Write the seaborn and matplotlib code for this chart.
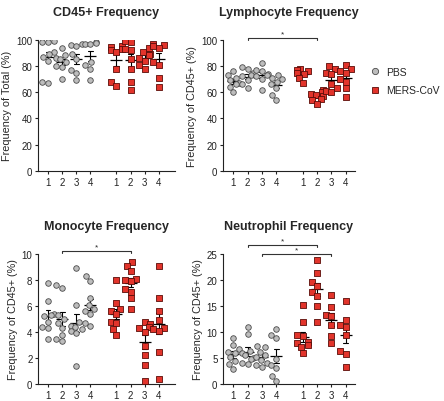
import pandas as pd
import seaborn as sns
import matplotlib.pyplot as plt
from matplotlib.lines import Line2D

DAYS = [1, 2, 3, 4]
GROUPS = ["PBS", "MERS-CoV"]

# values, one list per day
cd45_pbs = [[99, 98.5, 98, 91, 89, 87, 84, 68, 67],
            [94, 88, 86, 85, 83, 80, 79, 70],
            [96.5, 96, 95, 89, 85, 77, 75, 69],
            [98, 97.5, 97, 96.5, 83, 81, 78, 69]]
cd45_mers = [[95, 94.5, 93, 92, 91, 78, 68, 65],
             [99, 98, 93, 92, 85, 78, 68, 62],
             [94, 91, 89, 88, 86, 84, 81, 78],
             [97, 96, 95, 94, 83, 81, 71, 64]]

lymph_pbs = [[76, 73, 71, 69, 67, 66, 64, 60],
             [79, 78, 75, 73, 72, 69, 66, 63],
             [82, 77, 76, 74, 73, 72, 70, 62],
             [73, 71, 70, 68, 66, 63, 58, 54]]
lymph_mers = [[78, 77, 76, 75, 74, 71, 67],
              [62, 60, 59, 58, 57, 55, 54, 51],
              [80, 78, 75, 74, 66, 63, 61, 60],
              [81, 78, 76, 75, 70, 68, 63, 56]]

mono_pbs = [[7.8, 6.4, 5.4, 5.3, 5.2, 4.8, 4.4, 4.3, 3.5],
            [7.6, 7.4, 5.3, 5.0, 4.7, 4.3, 3.8, 3.5, 3.3],
            [8.9, 6.1, 4.8, 4.5, 4.4, 4.2, 4.1, 3.9, 1.4],
            [8.3, 7.9, 6.6, 6.1, 5.8, 5.6, 5.4, 4.7, 4.5]]
mono_mers = [[8.0, 6.2, 5.8, 5.6, 5.4, 4.8, 4.7, 4.2, 3.8],
             [9.4, 9.1, 8.7, 8.1, 8.0, 7.9, 7.3, 7.1, 6.6, 5.8],
             [4.8, 4.6, 4.4, 4.3, 4.0, 2.9, 2.2, 1.5, 0.25],
             [9.1, 6.6, 5.6, 4.9, 4.3, 4.2, 4.1, 2.5, 0.4]]

neut_pbs = [[8.9, 7.5, 6.7, 6.2, 5.9, 5.2, 4.4, 3.8, 2.9],
            [11.0, 9.7, 6.3, 5.9, 5.5, 5.0, 4.9, 4.1, 3.8],
            [7.3, 7.1, 6.2, 5.5, 5.2, 4.6, 4.1, 3.6, 3.3],
            [10.6, 9.4, 8.9, 4.9, 3.6, 3.0, 1.6, 0.6]]
neut_mers = [[15.1, 12.0, 9.5, 9.2, 8.0, 7.8, 7.5, 7.1, 5.9],
             [23.8, 21.4, 19.6, 18.8, 17.7, 17.0, 15.0, 12.0],
             [17.2, 14.8, 13.3, 13.1, 11.3, 9.2, 7.8],
             [16.0, 12.4, 11.4, 11.0, 9.4, 6.3, 5.7, 3.3]]

titles = ["CD45+ Frequency", "Lymphocyte Frequency",
          "Monocyte Frequency", "Neutrophil Frequency"]
ylabels = ["Frequency of Total (%)", "Frequency of CD45+ (%)",
           "Frequency of CD45+ (%)", "Frequency of CD45+ (%)"]
yticks = [range(0, 101, 20), range(0, 101, 20), range(0, 11, 2), range(0, 26, 5)]
# (day, bar height) for PBS vs MERS-CoV comparisons marked "*"
sig_bars = [[], [(2, 101)], [(2, 10.2)], [(2, 26.7), (3, 24.9)]]

MERS_OFFSET = 4.85
FILL = {"PBS": "#bdbdbd", "MERS-CoV": "#e2342b"}
EDGE = {"PBS": "#4a4a4a", "MERS-CoV": "#5a0c08"}
MARKER = {"PBS": "o", "MERS-CoV": "s"}


def to_long(pbs, mers):
    rows = []
    for grp, series in zip(GROUPS, [pbs, mers]):
        for day, vals in zip(DAYS, series):
            for v in vals:
                rows.append({"group": grp, "day": day, "value": v})
    df = pd.DataFrame(rows)
    df["pos"] = df["day"] - 1 + (df["group"] == "MERS-CoV") * MERS_OFFSET
    return df


panels = [to_long(cd45_pbs, cd45_mers), to_long(lymph_pbs, lymph_mers),
          to_long(mono_pbs, mono_mers), to_long(neut_pbs, neut_mers)]

sns.set_theme(style="ticks")
plt.rcParams["font.family"] = ["Liberation Sans", "DejaVu Sans"]

fig = plt.figure(figsize=(4.44, 4.02), dpi=100)
boxes = [[0.0856, 0.5721, 0.3086, 0.3267], [0.5023, 0.5721, 0.2973, 0.3267],
         [0.0856, 0.0420, 0.3086, 0.3240], [0.5023, 0.0420, 0.2973, 0.3240]]
xlims = [(-0.71, 9.0), (-0.72, 8.5), (-0.71, 9.0), (-0.72, 8.5)]

for i, df in enumerate(panels):
    ax = fig.add_axes(boxes[i])
    for grp in GROUPS:
        sub = df[df["group"] == grp]
        sns.swarmplot(data=sub, x="pos", y="value", native_scale=True, ax=ax,
                      marker=MARKER[grp], color=FILL[grp], edgecolor=EDGE[grp],
                      linewidth=0.6, size=4.0, warn_thresh=1)
        sns.pointplot(data=sub, x="pos", y="value", native_scale=True, ax=ax,
                      errorbar="se", capsize=0.35, color="black",
                      linestyle="none", marker="_", markersize=9,
                      markeredgewidth=0.9, err_kws={"linewidth": 0.8})

    ticks = sorted(df["pos"].unique())
    ax.set_xticks(ticks)
    ax.set_xticklabels([str(d) for d in DAYS] * 2)
    ax.set_xlim(*xlims[i])
    ax.set_yticks(list(yticks[i]))
    ax.set_ylim(yticks[i][0], yticks[i][-1])
    ax.set_xlabel("")
    ax.set_ylabel(ylabels[i], fontsize=7.8, labelpad=3)
    ax.set_title(titles[i], fontsize=9, fontweight="bold", pad=18)
    ax.tick_params(labelsize=7, length=2.5, width=0.8, pad=1.5, colors="#222222")
    for s in ["left", "bottom"]:
        ax.spines[s].set_linewidth(0.8)
        ax.spines[s].set_color("#222222")
    sns.despine(ax=ax)

    ymax = yticks[i][-1]
    for day, h in sig_bars[i]:
        x1 = day - 1
        x2 = day - 1 + MERS_OFFSET
        d = ymax * 0.012
        ax.plot([x1, x1, x2, x2], [h - d, h, h, h - d], color="#333333",
                lw=0.8, clip_on=False)
        ax.text((x1 + x2) / 2, h + ymax * 0.005, "*", ha="center", va="bottom",
                fontsize=6)

    if i == 1:
        handles = [Line2D([], [], marker=MARKER[g], linestyle="none",
                          markerfacecolor=FILL[g], markeredgecolor=EDGE[g],
                          markeredgewidth=0.6, markersize=4.5) for g in GROUPS]
        ax.legend(handles, GROUPS, loc="center left", bbox_to_anchor=(1.07, 0.685),
                  frameon=False, fontsize=7.5, handlelength=1.0,
                  handletextpad=0.6, borderpad=0, labelspacing=0.8)

fig.savefig("out.png", dpi=100)
